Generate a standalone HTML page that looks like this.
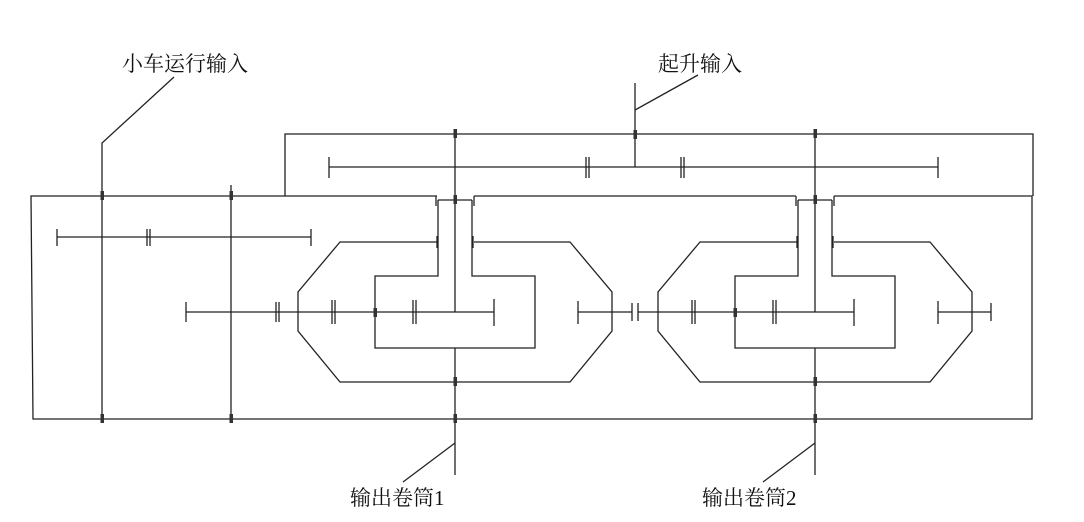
<!DOCTYPE html>
<html><head><meta charset="utf-8"><style>
html,body{margin:0;padding:0;background:#fff;}
svg{display:block;}
text{font-family:"Liberation Serif","Noto Serif CJK SC","Noto Sans CJK SC",serif;font-size:21px;fill:#111;}
</style></head><body>
<svg width="1084" height="522" viewBox="0 0 1084 522" xmlns="http://www.w3.org/2000/svg">
<g stroke="#222" stroke-width="1.3" fill="none">
<!-- housings -->
<polyline points="285,196 285,134 1033,134 1033,196"/>
<polyline points="437,196 31,196 33,419 1032,419 1032,196 834,196"/>
<line x1="474" y1="196" x2="796" y2="196"/>
<!-- left shafts -->
<polyline points="174,77 102,143 102,423"/>
<line x1="231" y1="185" x2="231" y2="423"/>
<!-- left upper gear line -->
<line x1="57" y1="237" x2="311" y2="237"/>
<line x1="57" y1="229" x2="57" y2="246"/><line x1="147" y1="229" x2="147" y2="246"/><line x1="150" y1="229" x2="150" y2="246"/><line x1="311" y1="229" x2="311" y2="246"/>
<!-- hoist input -->
<line x1="635" y1="83" x2="635" y2="167"/>
<line x1="635" y1="110" x2="698" y2="75"/>
<line x1="329" y1="167" x2="938" y2="167"/>
<line x1="329" y1="157" x2="329" y2="178"/><line x1="586" y1="157" x2="586" y2="178"/><line x1="589" y1="157" x2="589" y2="178"/>
<line x1="681" y1="157" x2="681" y2="178"/><line x1="684" y1="157" x2="684" y2="178"/><line x1="938" y1="157" x2="938" y2="178"/>
<!-- unit 1 gear line -->
<line x1="186" y1="312" x2="494" y2="312"/>
<line x1="186" y1="302" x2="186" y2="322"/><line x1="276" y1="302" x2="276" y2="322"/><line x1="279" y1="302" x2="279" y2="322"/>
<!-- between units -->
<line x1="578" y1="312" x2="632" y2="312"/><line x1="638" y1="312" x2="854" y2="312"/>
<line x1="578" y1="301" x2="578" y2="324"/><line x1="632" y1="303" x2="632" y2="321"/><line x1="638" y1="303" x2="638" y2="321"/>
<line x1="938" y1="312" x2="991" y2="312"/>
<line x1="938" y1="301" x2="938" y2="324"/><line x1="991" y1="303" x2="991" y2="321"/>
<!-- bottom leaders -->
<line x1="455" y1="443" x2="403" y2="482"/>
<line x1="815" y1="443" x2="763" y2="482"/>
</g>
<g id="u" stroke="#222" stroke-width="1.3" fill="none">
<line x1="455" y1="134" x2="455" y2="312"/>
<line x1="455" y1="348" x2="455" y2="475"/>
<line x1="438" y1="200" x2="472" y2="200"/>
<line x1="436" y1="196" x2="436" y2="206"/><line x1="474" y1="196" x2="474" y2="206"/>
<polyline points="438,200 438,276 375,276 375,348 535,348 535,276 472,276 472,200"/>
<polyline points="438,242 340,242 298,292 298,331 340,382 570,382 612,331 612,292 570,242 474,242"/>
<line x1="437" y1="236" x2="437" y2="248"/><line x1="473" y1="236" x2="473" y2="248"/>
<line x1="332" y1="300" x2="332" y2="324"/><line x1="335" y1="300" x2="335" y2="324"/>
<line x1="413" y1="300" x2="413" y2="324"/><line x1="416" y1="300" x2="416" y2="324"/>
<line x1="494" y1="299" x2="494" y2="326"/>
</g>
<use href="#u" transform="translate(360,0)"/>
<g fill="#333">
<rect x="100.5" y="191" width="3.5" height="9"/><rect x="100.5" y="414" width="3.5" height="9"/>
<rect x="229.5" y="191" width="3.5" height="9"/><rect x="229.5" y="414" width="3.5" height="9"/>
<rect x="633.5" y="130" width="3.5" height="9"/>
<g id="b">
<rect x="453.5" y="129" width="3.5" height="9"/><rect x="453.5" y="195" width="3.5" height="9"/>
<rect x="373.5" y="308" width="3.5" height="9"/><rect x="453.5" y="377" width="3.5" height="9"/>
<rect x="453.5" y="414" width="3.5" height="9"/>
</g>
<use href="#b" transform="translate(360,0)"/>
</g>
<text x="122" y="71">小车运行输入</text>
<text x="658" y="71">起升输入</text>
<text x="350" y="505">输出卷筒1</text>
<text x="702" y="505">输出卷筒2</text>
</svg>
</body></html>
